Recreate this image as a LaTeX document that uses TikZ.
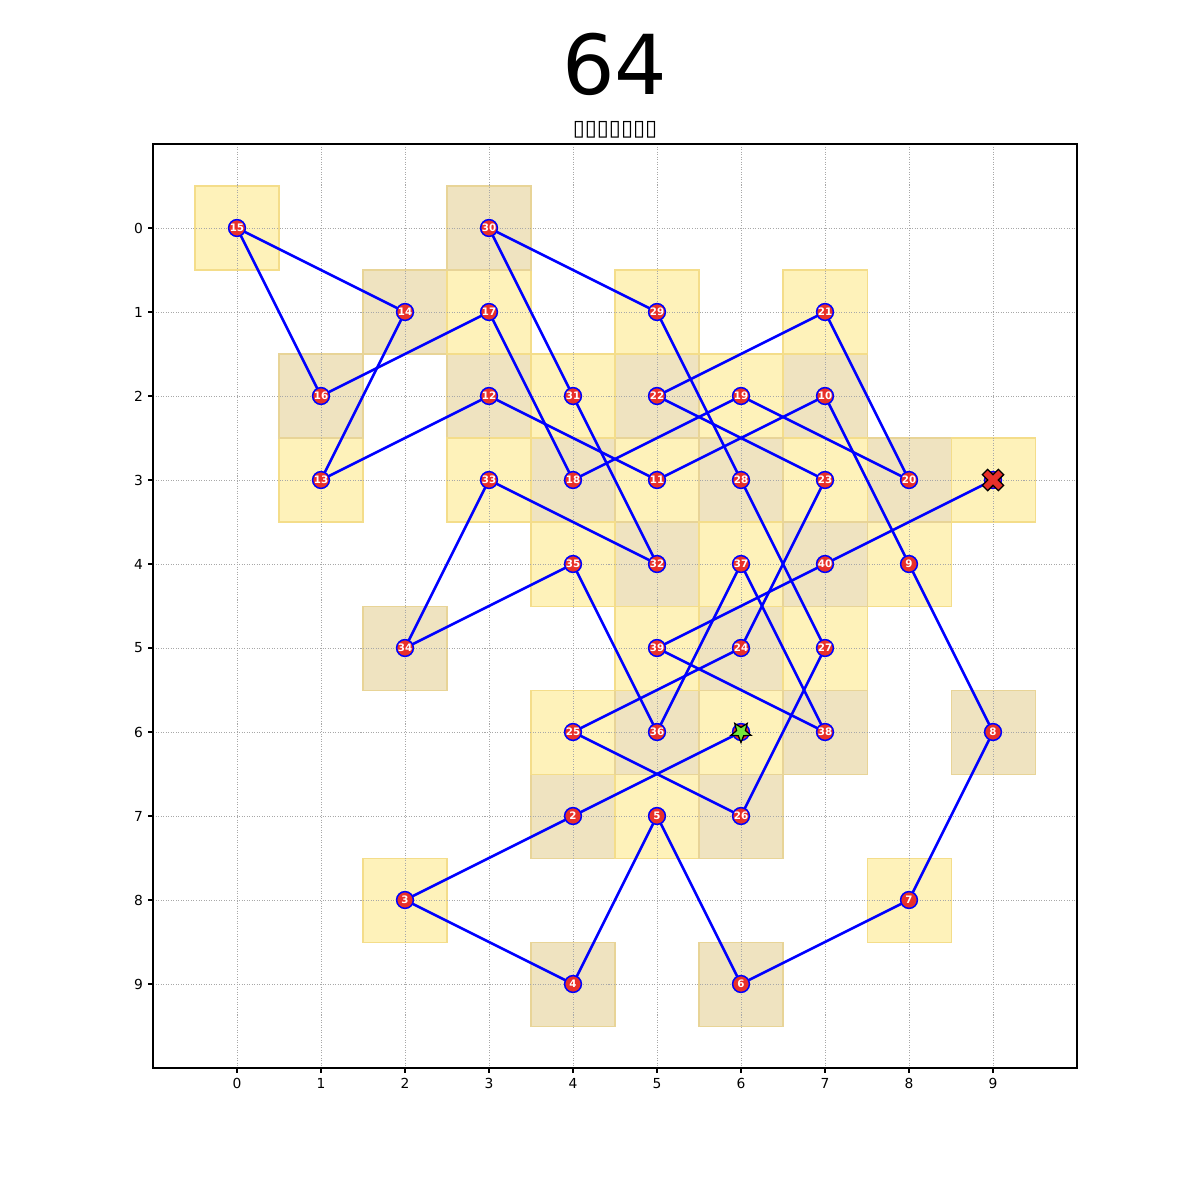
\documentclass[tikz,border=0pt]{standalone}
\usepackage{fontspec}
\setmainfont{DejaVu Sans}
\usetikzlibrary{backgrounds,calc}
\definecolor{cellA}{HTML}{FEF2BA}
\definecolor{cellAedge}{HTML}{F4DD8A}
\definecolor{cellB}{HTML}{EFE3C0}
\definecolor{cellBedge}{HTML}{E8D497}
\definecolor{nodered}{HTML}{E8302A}
\definecolor{startgreen}{HTML}{74E83A}
\definecolor{gridgray}{HTML}{A8A8A8}
\pgfdeclarelayer{cells}
\pgfdeclarelayer{edges}
\pgfsetlayers{cells,edges,main}
\tikzset{
  tour/.style={circle, minimum size=0.35cm, inner sep=0pt, fill=nodered, draw=blue, line width=0.9pt, text=white, font=\fontsize{6.1}{6}\selectfont\bfseries},
  tourline/.style={draw=blue, line width=1.5pt},
  gridline/.style={draw=gridgray, line width=0.4pt, dash pattern=on 0.6pt off 0.9pt},
  frame/.style={draw=black, line width=0.65pt},
  ticklab/.style={font=\fontsize{8.2}{9}\selectfont, inner sep=0pt},
}
\begin{document}
\begin{tikzpicture}[x=1.75cm, y=-1.75cm]
\useasboundingbox (-2.8214,-2.7143) rectangle (11.4643,11.5714);
% cells
\begin{pgfonlayer}{cells}
\foreach \cx/\cy in {6/6,4/7,2/8,4/9,5/7,6/9,8/8,9/6,8/4,7/2,5/3,3/2,1/3,2/1,0/0,1/2,3/1,4/3,6/2,8/3,7/1,5/2,7/3,6/5,4/6,6/7,7/5,6/3,5/1,3/0,4/2,5/4,3/3,2/5,4/4,5/6,6/4,7/6,5/5,7/4,9/3}{
  \pgfmathtruncatemacro{\cellpar}{mod(\cx+\cy,2)}
  \ifnum\cellpar=0
    \fill[cellA] (\cx-0.5,\cy-0.5) rectangle (\cx+0.5,\cy+0.5);
  \else
    \fill[cellB] (\cx-0.5,\cy-0.5) rectangle (\cx+0.5,\cy+0.5);
  \fi
}
\foreach \cx/\cy in {6/6,4/7,2/8,4/9,5/7,6/9,8/8,9/6,8/4,7/2,5/3,3/2,1/3,2/1,0/0,1/2,3/1,4/3,6/2,8/3,7/1,5/2,7/3,6/5,4/6,6/7,7/5,6/3,5/1,3/0,4/2,5/4,3/3,2/5,4/4,5/6,6/4,7/6,5/5,7/4,9/3}{
  \pgfmathtruncatemacro{\cellpar}{mod(\cx+\cy,2)}
  \ifnum\cellpar=0
    \draw[cellAedge, line width=0.6pt] (\cx-0.5,\cy-0.5) rectangle (\cx+0.5,\cy+0.5);
  \else
    \draw[cellBedge, line width=0.6pt] (\cx-0.5,\cy-0.5) rectangle (\cx+0.5,\cy+0.5);
  \fi
}
% grid
\foreach \g in {0,...,9}{
  \draw[gridline] (\g,-1) -- (\g,10);
  \draw[gridline] (-1,\g) -- (10,\g);
}
% frame and ticks
\draw[frame] (-1,-1) rectangle (10,10);
\foreach \g in {0,...,9}{
  \draw[frame] (\g,10) -- (\g,10.058);
  \draw[frame] (-1,\g) -- (-1.058,\g);
  \node[ticklab, anchor=north] (xt\g) at (\g,10.116) {\g};
  \node[ticklab, anchor=east] (yt\g) at (-1.116,\g) {\g};
}
\end{pgfonlayer}
% titles
\node[font=\fontsize{49}{56}\selectfont] (title) at (4.5,-1.95) {64};
\node[font=\fontsize{13}{15}\selectfont, inner sep=0pt] (subtitle) at (4.5,-1.167) {▯▯▯▯▯▯▯};
% tour nodes
\node[tour] (n1) at (6,6) {};
\node[tour] (n2) at (4,7) {2};
\node[tour] (n3) at (2,8) {3};
\node[tour] (n4) at (4,9) {4};
\node[tour] (n5) at (5,7) {5};
\node[tour] (n6) at (6,9) {6};
\node[tour] (n7) at (8,8) {7};
\node[tour] (n8) at (9,6) {8};
\node[tour] (n9) at (8,4) {9};
\node[tour] (n10) at (7,2) {10};
\node[tour] (n11) at (5,3) {11};
\node[tour] (n12) at (3,2) {12};
\node[tour] (n13) at (1,3) {13};
\node[tour] (n14) at (2,1) {14};
\node[tour] (n15) at (0,0) {15};
\node[tour] (n16) at (1,2) {16};
\node[tour] (n17) at (3,1) {17};
\node[tour] (n18) at (4,3) {18};
\node[tour] (n19) at (6,2) {19};
\node[tour] (n20) at (8,3) {20};
\node[tour] (n21) at (7,1) {21};
\node[tour] (n22) at (5,2) {22};
\node[tour] (n23) at (7,3) {23};
\node[tour] (n24) at (6,5) {24};
\node[tour] (n25) at (4,6) {25};
\node[tour] (n26) at (6,7) {26};
\node[tour] (n27) at (7,5) {27};
\node[tour] (n28) at (6,3) {28};
\node[tour] (n29) at (5,1) {29};
\node[tour] (n30) at (3,0) {30};
\node[tour] (n31) at (4,2) {31};
\node[tour] (n32) at (5,4) {32};
\node[tour] (n33) at (3,3) {33};
\node[tour] (n34) at (2,5) {34};
\node[tour] (n35) at (4,4) {35};
\node[tour] (n36) at (5,6) {36};
\node[tour] (n37) at (6,4) {37};
\node[tour] (n38) at (7,6) {38};
\node[tour] (n39) at (5,5) {39};
\node[tour] (n40) at (7,4) {40};
\node[tour] (n41) at (9,3) {};
% tour path
\begin{pgfonlayer}{edges}
\foreach \a [evaluate=\a as \b using int(\a+1)] in {1,...,40}{
  \draw[tourline] (n\a.center) -- (n\b.center);
}
\end{pgfonlayer}
% start star
\fill[startgreen, draw=black, line width=0.75pt, line join=miter]
  ($(n1.center)+(90:0.125)$) -- ($(n1.center)+(126:0.055)$) -- ($(n1.center)+(162:0.125)$) -- ($(n1.center)+(198:0.055)$) -- ($(n1.center)+(234:0.125)$) -- ($(n1.center)+(270:0.055)$) -- ($(n1.center)+(306:0.125)$) -- ($(n1.center)+(342:0.055)$) -- ($(n1.center)+(18:0.125)$) -- ($(n1.center)+(54:0.055)$) -- cycle;
% end cross
\begin{scope}[shift={(n41.center)}, rotate=45]
\fill[nodered, draw=black, line width=0.75pt]
  (0.045,0.135) -- (0.045,0.045) -- (0.135,0.045) -- (0.135,-0.045) -- (0.045,-0.045) -- (0.045,-0.135) -- (-0.045,-0.135) -- (-0.045,-0.045) -- (-0.135,-0.045) -- (-0.135,0.045) -- (-0.045,0.045) -- (-0.045,0.135) -- cycle;
\end{scope}
\end{tikzpicture}
\end{document}
